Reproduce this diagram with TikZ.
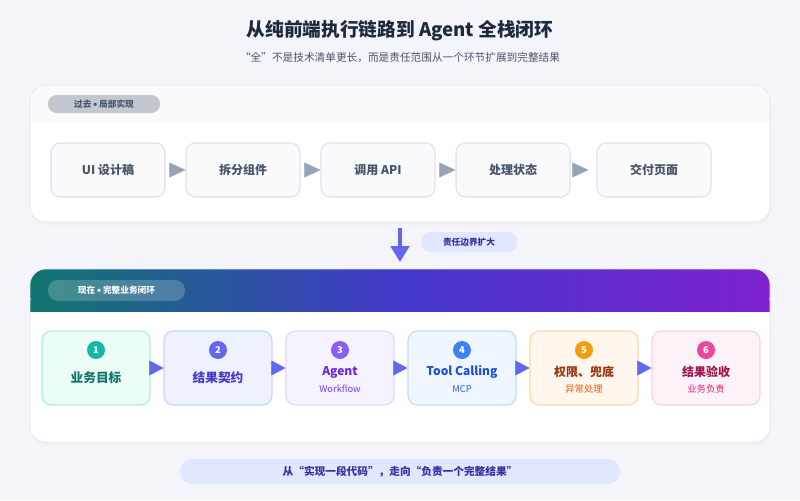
\documentclass[tikz,border=0pt]{standalone}
\usepackage{fontspec}
\setmainfont{Noto Sans CJK SC}
\usetikzlibrary{arrows.meta, positioning}

\definecolor{bgpage}{HTML}{F3F5FB}
\definecolor{inkdark}{HTML}{1E293B}
\definecolor{inkgray}{HTML}{475569}
\definecolor{oldline}{HTML}{DDE3EC}
\definecolor{oldfill}{HTML}{F8FAFC}
\definecolor{oldarrow}{HTML}{94A3B8}
\definecolor{indigo}{HTML}{6366F1}
\definecolor{indigolt}{HTML}{E0E7FF}
\definecolor{indigodk}{HTML}{3730A3}
\definecolor{teal}{HTML}{0F766E}
\definecolor{midblue}{HTML}{4338CA}
\definecolor{purple}{HTML}{7E22CE}

\tikzset{
  oldbox/.style={draw=oldline, fill=oldfill, rounded corners=7, line width=0.8pt,
    minimum width=114*0.75pt, minimum height=54*0.75pt, font=\fontsize{9}{11}\selectfont\bfseries, text=inkgray},
  newbox/.style={rounded corners=7, line width=0.8pt,
    minimum width=108*0.75pt, minimum height=74*0.75pt},
  pill/.style={font=\fontsize{6.5}{8}\selectfont\bfseries, inner sep=0pt}
}
\newcommand{\mdot}{\,{\raisebox{0.25ex}{\tiny$\bullet$}}\,}

\begin{document}
\begin{tikzpicture}[x=0.75pt, y=-0.75pt]
\useasboundingbox (0,0) rectangle (800,500);
\fill[bgpage] (0,0) rectangle (800,500);

% title
\node[font=\fontsize{14}{16}\selectfont\bfseries, text=inkdark] (title) at (400,31) {从纯前端执行链路到 Agent 全栈闭环};
\node[font=\fontsize{8}{10}\selectfont, text=inkgray] (subtitle) at (400,58) {“全”不是技术清单更长，而是责任范围从一个环节扩展到完整结果};

% past panel
\fill[black!6, rounded corners=12] (31,88) rectangle (771,225);
\fill[white, rounded corners=12] (30,85) rectangle (770,222);
\fill[oldfill, rounded corners=12] (30,85) rectangle (770,122);
\fill[oldfill] (30,110) rectangle (770,122);
\draw[oldline, rounded corners=12] (30,85) rectangle (770,222);
\fill[black!12!oldline, rounded corners=6.5] (48,95) rectangle (160,113);
\node[pill, text=inkgray] (pastlabel) at (104,104) {过去\mdot 局部实现};

\foreach \i/\x/\t in {1/108/UI 设计稿, 2/243/拆分组件, 3/378/调用 API, 4/513/处理状态, 5/654/交付页面}
  \node[oldbox] (old\i) at (\x,170) {\t};
\foreach \a/\b/\s in {1/2/0, 2/3/0, 3/4/0, 4/5/6}
  \draw[oldarrow, shorten <=5pt, shorten >=\s pt, -{Triangle[length=12pt, width=11pt]}] (old\a.east) -- (old\b.west);

% transition
\coordinate (downtop) at (400,228);
\coordinate (downend) at (400,262);
\draw[indigo, line width=2.5pt, -{Triangle[length=12pt, width=14pt]}] (downtop) -- (downend);
\fill[indigolt, rounded corners=7] (421,232) rectangle (517,252);
\node[pill, text=indigodk] (grow) at (469,242) {责任边界扩大};

% present panel
\fill[black!6, rounded corners=12] (31,272) rectangle (771,445);
\fill[white, rounded corners=12] (30,269) rectangle (770,442);
\shade[left color=teal, right color=purple, middle color=midblue, rounded corners=12] (30,269) rectangle (770,311);
\shade[left color=teal, right color=purple, middle color=midblue] (30,300) rectangle (770,311);
\draw[indigolt, rounded corners=12] (30,269) rectangle (770,442);
\fill[white, opacity=0.2, rounded corners=7.5] (48,280) rectangle (185,301);
\node[pill, text=white] (nowlabel) at (116.5,290.5) {现在\mdot 完整业务闭环};

\foreach \i/\x/\fc/\dc/\cc in {1/96/ECFDF5/A7F3D0/14B8A6, 2/218/EEF2FF/C7D2FE/6366F1,
  3/340/F5F3FF/DDD6FE/8B5CF6, 4/462/EFF6FF/BFDBFE/3B82F6,
  5/584/FFF7ED/FED7AA/F59E0B, 6/706/FDF2F8/FBCFE8/EC4899}{
  \definecolor{bfill}{HTML}{\fc}\definecolor{bdraw}{HTML}{\dc}\definecolor{bcirc}{HTML}{\cc}
  \node[newbox, fill=bfill, draw=bdraw] (step\i) at (\x,368) {};
  \node[circle, fill=bcirc, minimum size=13.5pt, inner sep=0pt, text=white,
    font=\fontsize{7}{8}\selectfont\bfseries] (num\i) at (\x,350) {\i};
}
% single-line steps
\foreach \i/\tc/\t in {1/0F766E/业务目标, 2/4338CA/结果契约}{
  \definecolor{btext}{HTML}{\tc}
  \node[text=btext, font=\fontsize{9.5}{11}\selectfont\bfseries] (main\i) at (step\i |- 0,378) {\t};
}
% two-line steps
\foreach \i/\tc/\sc/\t/\s in {3/6D28D9/7C3AED/Agent/Workflow, 4/1D4ED8/2563EB/Tool Calling/MCP,
  5/9A3412/EA580C/权限、兜底/异常处理, 6/9D174D/DB2777/结果验收/业务负责}{
  \definecolor{btext}{HTML}{\tc}\definecolor{bsub}{HTML}{\sc}
  \node[text=btext, font=\fontsize{9}{11}\selectfont\bfseries] (main\i) at (step\i |- 0,372) {\t};
  \node[text=bsub, font=\fontsize{7}{9}\selectfont] (sub\i) at (step\i |- 0,389) {\s};
}
\foreach \a/\b in {1/2, 2/3, 3/4, 4/5, 5/6}
  \draw[indigo, -{Triangle[length=10.5pt, width=11pt]}] (step\a.east) -- (step\b.west);

% footer
\fill[indigolt, rounded corners=9] (180,459) rectangle (620,484);
\node[font=\fontsize{8}{10}\selectfont\bfseries, text=indigodk] (footer) at (400,471.5) {从“实现一段代码”，走向“负责一个完整结果”};
\end{tikzpicture}
\end{document}
